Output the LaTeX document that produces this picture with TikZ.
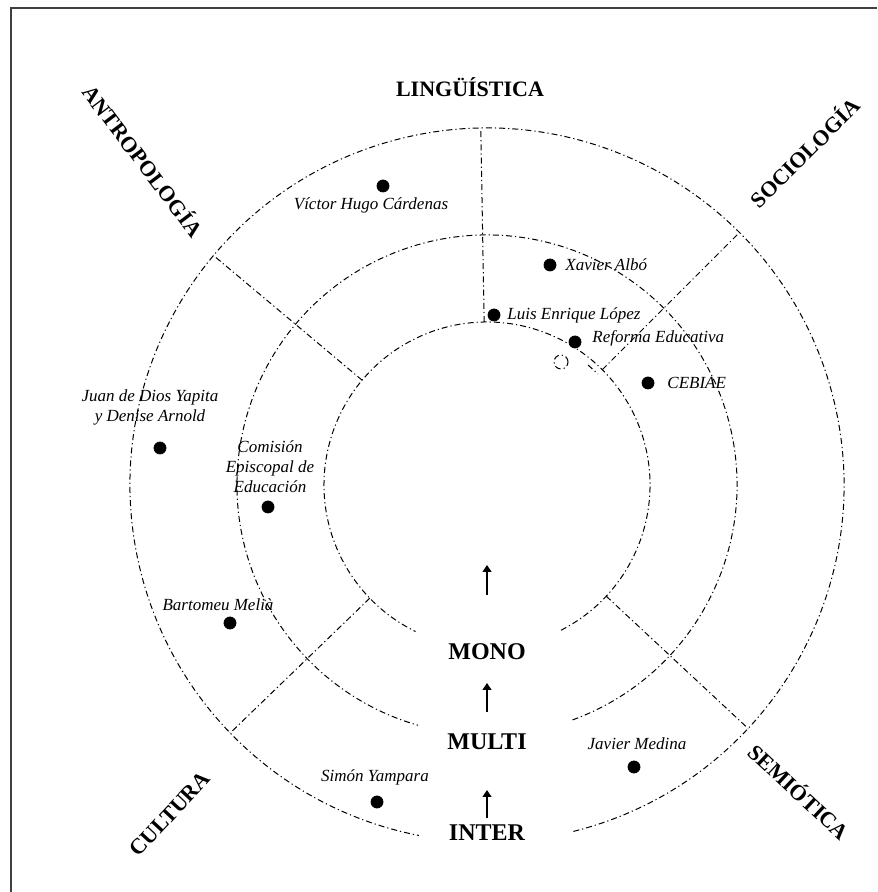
\documentclass[tikz,border=0pt]{standalone}
\usepackage{fontspec}
\setmainfont{Liberation Serif}
\usepackage{tkz-graph}
\usetikzlibrary{arrows.meta}

\tikzset{
  anillo/.style={line width=0.5pt, dash pattern=on 3pt off 1.5pt on 0.6pt off 1.5pt},
  marco/.style={line width=1pt, draw=black!75},
  campo/.style={font=\bfseries\fontsize{11}{13}\selectfont, inner sep=0pt},
  nivel/.style={font=\bfseries\fontsize{12}{14}\selectfont, inner sep=1pt},
  autor/.style={font=\itshape\fontsize{8.5}{10}\selectfont, align=center, inner sep=0pt},
  flecha/.style={line width=0.6pt, -{Triangle[width=4.5pt,length=3.5pt]}}
}

\begin{document}
\begin{tikzpicture}[x=0.5pt,y=0.5pt]
\useasboundingbox (0,0) rectangle (877,892);
\GraphInit[vstyle=Normal]
\SetVertexNoLabel
\tikzset{VertexStyle/.style={shape=circle, fill=black, draw=black, inner sep=0pt, minimum size=6pt}}
\draw[marco] (11,0) -- (11,884) -- (877,884);
\coordinate (C) at (487,407);
\draw[anillo] (C) ++(297:163) arc[start angle=297, end angle=604, radius=163];
\draw[anillo] (C) ++(290:250) arc[start angle=290, end angle=614, radius=250];
\draw[anillo] (C) ++(284:357) arc[start angle=284, end angle=619, radius=357];
\foreach \ang in {45,91,140,224,317}
  \draw[anillo] (C) ++(\ang:163) -- ++(\ang:194);
\draw[anillo] (561,530) circle[radius=7];
\draw[anillo] (588,527) -- (598,518);
\node[campo] (ling) at (470,805) {LINGÜÍSTICA};
\node[campo, rotate=-53] (antro) at (144,732) {ANTROPOLOGÍA};
\node[campo, rotate=45] (socio) at (804,740) {SOCIOLOGÍA};
\node[campo, rotate=47] (cult) at (170,78) {CULTURA};
\node[campo, rotate=-43] (semio) at (800,101) {SEMIÓTICA};
\node[nivel] (mono) at (487,240) {MONO};
\node[nivel] (multi) at (487,150) {MULTI};
\node[nivel] (inter) at (487,59) {INTER};
\coordinate (foco) at (487,327);
\draw[flecha, shorten <=28.5pt] (mono.center) -- (foco);
\draw[flecha, shorten <=15pt, shorten >=15.5pt] (multi.center) -- (mono.center);
\draw[flecha, shorten <=7.5pt, shorten >=24pt] (inter.center) -- (multi.center);
\Vertex[x=383 ,y=706]{Cardenas}
\Vertex[x=550 ,y=627]{Albo}
\Vertex[x=494 ,y=577]{Lopez}
\Vertex[x=575 ,y=550]{Reforma}
\Vertex[x=648 ,y=509]{Cebiae}
\Vertex[x=160 ,y=444]{Yapita}
\Vertex[x=268 ,y=385]{Comision}
\Vertex[x=230 ,y=269]{Melia}
\Vertex[x=377 ,y=90]{Yampara}
\Vertex[x=634 ,y=125]{Medina}
\node[autor] (Cardenas-t) at (371,687) {Víctor Hugo Cárdenas};
\node[autor, anchor=west] (Albo-t) at (565,627) {Xavier Albó};
\node[autor, anchor=west] (Lopez-t) at (507,577) {Luis Enrique López};
\node[autor, anchor=west] (Reforma-t) at (592,554) {Reforma Educativa};
\node[autor, anchor=west] (Cebiae-t) at (667,509) {CEBIAE};
\node[autor] (Yapita-t) at (150,485) {Juan de Dios Yapita\\y Denise Arnold};
\node[autor] (Comision-t) at (270,425) {Comisión\\Episcopal de\\Educación};
\node[autor] (Melia-t) at (218,287) {Bartomeu Melià};
\node[autor] (Yampara-t) at (375,115) {Simón Yampara};
\node[autor] (Medina-t) at (637,148) {Javier Medina};
\end{tikzpicture}
\end{document}
